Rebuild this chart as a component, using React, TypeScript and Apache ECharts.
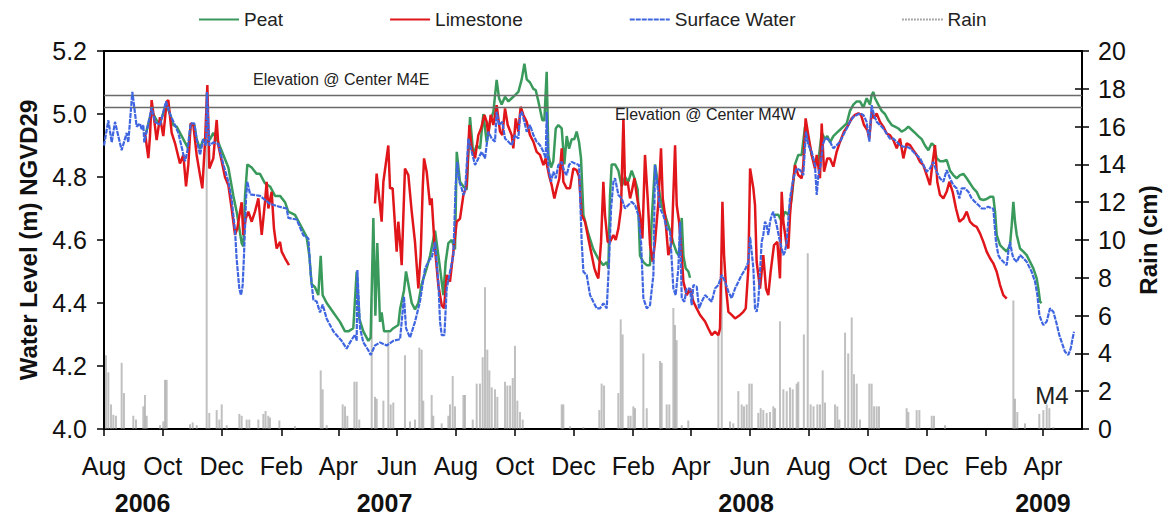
import React, { useEffect, useRef } from "react";
import * as echarts from "echarts";

// Day offsets are counted from START (2006-08-01)
const START = "2006-08-01";
const END_DAY = 1014.5;
const DAY_MS = 86400000;

const monthTicks = [
  "2006-08-01", "2006-10-01", "2006-12-01", "2007-02-01", "2007-04-01", "2007-06-01",
  "2007-08-01", "2007-10-01", "2007-12-01", "2008-02-01", "2008-04-01", "2008-06-01",
  "2008-08-01", "2008-10-01", "2008-12-01", "2009-02-01", "2009-04-01",
];
const monthNames = ["Jan", "Feb", "Mar", "Apr", "May", "Jun", "Jul", "Aug", "Sep", "Oct", "Nov", "Dec"];
const yearLabels = ["2006", "2007", "2008", "2009"];
const yearLabelDates = ["2006-09-10", "2007-05-19", "2008-05-28", "2009-04-01"];
const annotationTexts = ["Elevation @ Center M4E", "Elevation @ Center M4W", "M4"];
const elevationLines = [5.057, 5.022];

// [day, water level m]
const peat: [number, number | null][] = [
  [43.6,4.94],[49.4,5.01],[54.6,4.98],[58.1,4.97],[64.3,5.03],[68.5,5.0],[71.9,4.965],[75.4,4.96],[80.6,4.93],[84,4.91],[87.5,4.89],[89.9,4.965],[93.7,4.965],[96.1,4.92],[99.6,4.89],[103,4.92],[106.5,4.91],[110,4.92],[113.4,4.94],[118.6,4.91],[123.8,4.87],[129,4.83],[134.2,4.74],[137.6,4.69],[142.8,4.59],[144.5,4.58],[146.3,4.74],[148.7,4.84],[153.2,4.83],[158.4,4.81],[161.8,4.81],[167,4.78],[172.2,4.77],[177.4,4.74],[182.6,4.74],[187.8,4.72],[191.2,4.69],[198.1,4.68],[205,4.64],[210.2,4.61],[213,4.55],[215.4,4.46],[218.9,4.45],[222.3,4.425],[224.8,4.55],[226.8,4.425],[231,4.40],[237.9,4.37],[244.8,4.34],[250,4.31],[253.5,4.31],[258.6,4.32],[262.1,4.50],[264.9,4.35],[269,4.31],[274.2,4.28],[276.6,4.29],[279.4,4.67],[281.5,4.36],[283.5,4.59],[286.3,4.34],[288,4.37],[290.5,4.31],[296.7,4.31],[300.1,4.32],[305.3,4.33],[307.1,4.38],[311.2,4.44],[313.3,4.50],[315.7,4.46],[319.2,4.40],[322.6,4.38],[326.1,4.40],[329.5,4.46],[334.7,4.51],[338.2,4.55],
  [343.4,4.63],[348.6,4.51],[352,4.425],[354.4,4.53],[357.2,4.59],[360.7,4.60],[364.1,4.57],[365.9,4.88],[369.3,4.785],[372.8,4.77],[376.2,4.76],[379.7,4.99],[383.1,4.87],[386.6,4.90],[390.1,4.89],[393.5,5.0],[397,4.91],[400.4,4.975],[403.9,5.007],[407.3,5.108],[409.8,5.05],[412.5,5.03],[416,5.055],[419.5,5.04],[422.9,5.05],[426.4,5.06],[429.8,5.07],[433.3,5.11],[436.1,5.16],[438.5,5.11],[441.9,5.10],[445.4,5.08],[447.8,5.076],[450.6,5.04],[454.7,4.98],[456.8,4.98],[459.2,5.134],[461,4.87],[463.7,4.83],[466.1,4.85],[468.6,4.954],[471.3,4.965],[474.8,4.954],[477.5,4.84],[480,4.93],[482.4,4.89],[485.2,4.92],[487.9,4.92],[490.3,4.944],[492.8,4.91],[494.8,4.86],[497.3,4.68],[502.4,4.62],[507.6,4.57],[512.8,4.54],[518,4.52],[521.5,4.53],[523.2,4.51],[524.9,4.74],[526.6,4.84],[530.1,4.84],[533.6,4.82],[537,4.77],[540.5,4.80],[543.9,4.785],[547.4,4.82],[550.9,4.79],[553.6,4.76],[556,4.55],[559.5,4.53],[563,4.52],[566.4,4.52],[568.1,4.66],[571.6,4.84],[575.1,4.77],[578.5,4.71],[582,4.68],[587.2,4.63],[590.6,4.59],[594.1,4.56],[596.5,4.55],[599.3,4.67],[601,4.55],[603.4,4.51],[606.2,4.50],[607.9,4.48],
  [652,null],
  [696,4.68],[699.5,4.68],[702.9,4.66],[706.4,4.69],[709.9,4.68],[713.3,4.73],[716.8,4.84],[720.2,4.87],[723.7,4.87],[727.2,4.96],[730.6,4.92],[734.1,4.87],[737.5,4.84],[741,4.85],[744.5,4.94],[747.9,4.92],[750.3,4.93],[753.1,4.91],[756.6,4.93],[760,4.94],[763.5,4.95],[766.9,4.96],[770.4,4.97],[773.8,5.01],[777.3,5.03],[780.8,5.04],[784.2,5.04],[787.7,5.02],[791.1,5.05],[794.6,5.03],[796.3,5.06],[798.1,5.07],[799.8,5.05],[803.2,5.03],[806.7,5.01],[810.1,5.0],[813.6,4.98],[817.1,4.965],[820.5,4.96],[824,4.954],[827.4,4.944],[830.9,4.95],[834.4,4.96],[837.8,4.95],[841.3,4.94],[844.7,4.93],[848.2,4.92],[851.6,4.90],[855.1,4.885],[858.6,4.907],[861,4.90],[863.7,4.86],[867.2,4.85],[870.7,4.85],[874.1,4.854],[877.6,4.82],[881,4.806],[884.5,4.796],[888,4.806],[891.4,4.81],[894.9,4.796],[898.3,4.78],[901.8,4.764],[905.2,4.753],[908.7,4.73],[912.2,4.727],[915.6,4.73],[919.1,4.737],[922.5,4.737],[924.3,4.69],[926,4.616],[929.5,4.584],[932.9,4.573],[936.4,4.563],[939.8,4.584],[941.6,4.647],[943.3,4.721],[945,4.658],[946.8,4.616],[950.2,4.573],[953.7,4.563],[957.1,4.552],[960.6,4.531],[964,4.51],[967.5,4.478],[969.2,4.446],[971,4.404],[972.7,4.40],
];

const limestone: [number, number | null][] = [
  [42.5,4.94],[46,4.86],[47.7,4.93],[49.4,5.044],[51.9,4.986],[54.6,4.917],[58.1,4.99],[61.5,4.93],[65,5.04],[66.7,5.044],[70.2,4.94],[73.7,4.907],[78.8,4.843],[82.3,4.87],[85.1,4.77],[87.5,4.84],[89.9,4.97],[92.7,4.965],[96.1,4.87],[99.6,4.806],[102,4.764],[104.8,4.912],[107.2,5.092],[109.3,4.827],[113.4,4.859],[115.1,4.922],[116.9,4.981],[118.6,4.90],[122.1,4.85],[125.5,4.80],[129,4.774],[132.4,4.70],[135.9,4.616],[138.3,4.637],[141.1,4.69],[142.8,4.72],[144.5,4.616],[147,4.668],[149.7,4.69],[153.2,4.658],[156.6,4.69],[160.1,4.732],[163.6,4.616],[167,4.72],[168.7,4.785],[170.5,4.70],[173.9,4.753],[176.3,4.637],[179.1,4.573],[182.6,4.594],[184.3,4.563],[187.8,4.542],[191.9,4.52],
  [236,null],
  [281.1,4.716],[282.8,4.811],[286.3,4.711],[288,4.658],[289.8,4.785],[294.9,4.90],[296.7,4.764],[299.4,4.764],[303.6,4.563],[305.3,4.658],[307.1,4.594],[308.8,4.52],[312.2,4.827],[315.7,4.806],[319.2,4.69],[322.6,4.594],[326.1,4.446],[328.5,4.552],[330.6,4.764],[332,4.859],[334.7,4.817],[338.2,4.711],
  [339.9,4.732],[342.7,4.594],[346.8,4.457],[350.3,4.393],[352.7,4.383],[355.5,4.489],[358.9,4.468],[362.4,4.563],[365.9,4.658],[369.3,4.668],[372.8,4.743],[376.2,4.774],[379,4.965],[381.4,4.891],[384.9,4.859],[388.3,4.933],[391.1,4.954],[394.6,4.997],[397,4.975],[398.7,4.933],[401.1,4.997],[403.9,4.965],[407.3,5.028],[410.8,4.944],[413.2,4.933],[416,5.018],[418.8,4.965],[422.9,4.933],[424.6,4.891],[427.1,4.986],[429.8,4.944],[432.2,5.023],[435,4.997],[438.5,4.975],[441.9,4.933],[445.4,4.912],[448.8,4.88],[452.3,4.87],[455.8,4.838],[458.2,4.859],[461.6,4.806],[464.4,4.774],[467.2,4.732],[469.6,4.764],[472.4,4.796],[474.8,4.891],[476.5,4.785],[480,4.764],[483.4,4.764],[486.9,4.827],[490.3,4.822],[492.8,4.801],[495.5,4.679],[499,4.658],[502.4,4.605],[505.9,4.552],[508.7,4.51],[511.1,4.489],[512.8,4.478],[515.6,4.594],[518,4.785],[519.7,4.679],[522.5,4.594],[524.9,4.594],[528.4,4.616],[530.8,4.60],[533.6,4.637],[536.3,4.70],[538.8,4.986],[540.5,4.774],[543.2,4.785],[545.7,4.732],[547.4,4.753],[550.2,4.796],[552.6,4.743],[556,4.679],[558.5,4.605],[561.2,4.87],[564,4.732],[566.4,4.584],[569.2,4.531],[571.6,4.594],[575.1,4.721],[577.8,4.891],[579.6,4.732],[582,4.679],[585.4,4.552],[588.9,4.594],[592.4,4.901],[594.1,4.711],[596.5,4.658],[599.3,4.552],[601,4.468],[604.5,4.425],[607.9,4.446],[611.4,4.404],[614.8,4.383],[618.3,4.362],[623.5,4.341],[626.9,4.319],[630.4,4.298],[633.8,4.309],[637.3,4.298],[639,4.319],[641.5,4.721],[643.2,4.552],[645.3,4.446],[647.7,4.372],[651.1,4.362],[654.6,4.351],[659.8,4.362],[663.2,4.372],[665.7,4.383],[668.4,4.51],[670.2,4.827],[673.6,4.764],[675.3,4.711],
  [677,4.531],[680.5,4.446],[683.9,4.552],[686.7,4.446],[689.1,4.425],[691.5,4.499],[695,4.584],[698.5,4.594],[701.2,4.478],[703,4.753],[704.7,4.658],[708.1,4.584],[709.9,4.573],[711.6,4.679],[713.3,4.743],[716.8,4.838],[720.2,4.806],[723.7,4.796],[725.4,4.838],[727.8,4.986],[730.6,4.933],[734.1,4.87],[737.5,4.827],[739.3,4.87],[742.7,4.796],[744.5,4.97],[746.9,4.817],[750.3,4.859],[753.1,4.859],[756.6,4.833],[760,4.88],[763.5,4.912],[767.6,4.944],[772.1,4.965],[775.6,4.986],[779,4.997],[782.5,5.002],[785.3,4.997],[788.4,4.965],[791.8,4.949],[793.9,4.922],[796.3,5.007],[798.7,4.986],[801.5,5.002],[805,4.975],[808.4,4.96],[811.9,4.938],[815.3,4.933],[818.8,4.917],[822.3,4.891],[825.7,4.922],[829.2,4.859],[832.6,4.907],[836.1,4.901],[839.5,4.885],[843,4.87],[846.5,4.848],[849.9,4.838],[853.4,4.806],[856.8,4.774],[859.6,4.848],[862,4.901],[864.4,4.785],[867.2,4.743],[870.7,4.732],[874.1,4.753],[876.9,4.785],[880.3,4.753],[883.8,4.70],[887.3,4.658],[891.4,4.668],[894.9,4.69],[898.3,4.658],[901.8,4.647],[905.2,4.642],[908.7,4.621],[912.2,4.594],[915.6,4.563],[919.1,4.542],[922.5,4.526],[926,4.499],[929.5,4.457],[932.9,4.425],[936.4,4.414],
];

const surfaceWater: [number, number][] = [
  [0,4.90],[4.5,4.98],[8,4.91],[11.4,4.975],[18.3,4.885],[23.5,4.94],[25.2,4.91],[29.4,5.07],[33.9,4.96],[37.3,4.97],[39.1,4.95],[40.8,4.965],[41.8,4.91],[44.3,4.945],[49.4,5.02],[52.9,4.975],[58.1,4.965],[64.3,5.04],[68.5,5.0],[77.1,4.94],[84,4.85],[86.4,4.88],[89.9,4.97],[93.7,4.97],[96.1,4.92],[99.6,4.87],[103,4.92],[105.8,4.90],[106.8,5.07],[109.3,4.90],[113.4,4.91],[118.6,4.905],[123.8,4.84],[129,4.785],[132.4,4.73],[135.9,4.63],[137.6,4.54],[140.4,4.445],[142.1,4.425],[143.8,4.455],[145.2,4.55],[147.3,4.73],[148.7,4.785],[151.5,4.745],[161.8,4.74],[172.2,4.715],[182.6,4.705],[189.5,4.70],[191.2,4.67],[199.9,4.665],[206.8,4.615],[212,4.605],[214.4,4.49],[217.2,4.41],[220.6,4.405],[224.1,4.37],[226.8,4.395],[231,4.35],[237.9,4.31],[246.5,4.28],[251.7,4.255],[255.2,4.275],[260.4,4.30],[262.1,4.28],[262.8,4.505],[265.6,4.32],[269,4.275],[274.2,4.25],[276.6,4.235],[281.1,4.265],[286.3,4.275],[293.2,4.265],[300.1,4.28],[307.1,4.285],[311.2,4.42],[313.3,4.32],[317.4,4.29],[322.6,4.34],[327.8,4.405],[333,4.51],[338.2,4.54],
  [339.9,4.542],[343.4,4.594],[346.8,4.468],[348.6,4.34],[350.3,4.298],[353.1,4.298],[355.5,4.446],[358.9,4.499],[362.4,4.552],[364.8,4.774],[366.5,4.848],[368.6,4.785],[371,4.764],[372.8,4.743],[374.5,4.753],[378,4.922],[381.4,4.88],[384.9,4.838],[388.3,4.859],[391.8,4.88],[395.2,4.859],[398.7,4.944],[402.2,4.922],[405.6,4.912],[407.3,5.007],[409.8,4.965],[413.2,4.975],[416,4.922],[419.5,4.912],[422.9,4.901],[426.4,4.933],[429.8,4.922],[431.6,4.997],[433.3,5.007],[436.1,4.975],[438.5,4.944],[441.9,4.965],[445.4,4.933],[448.8,4.912],[452.3,4.901],[455.8,4.88],[458.2,4.859],[459.2,5.007],[461,4.827],[463.7,4.785],[466.1,4.817],[468.6,4.796],[471.3,4.838],[474.8,4.848],[477.5,4.817],[480,4.806],[482.4,4.838],[485.2,4.848],[488.6,4.843],[492.8,4.838],[495.5,4.594],[497.3,4.499],[500.7,4.489],[504.2,4.425],[507.6,4.404],[511.1,4.383],[514.5,4.383],[518,4.399],[521.5,4.383],[523.9,4.531],[526,4.70],[528.4,4.785],[530.1,4.796],[533.6,4.743],[537,4.732],[540.5,4.70],[543.9,4.711],[547.4,4.721],[550.9,4.711],[554.3,4.679],[557.1,4.594],[559.5,4.415],[563,4.383],[566.4,4.393],[569.9,4.489],[571.6,4.838],[574.4,4.764],[576.8,4.70],[580.2,4.679],[583.7,4.637],[587.2,4.626],[590.6,4.446],[593,4.425],[595.8,4.51],[597.5,4.658],[599.3,4.415],[602,4.404],[604.5,4.446],[607.9,4.446],[609.6,4.393],[611.4,4.457],[614.8,4.452],[617.3,4.383],[620,4.404],[623.5,4.425],[626.9,4.415],[630.4,4.404],[633.8,4.446],[637.3,4.457],[640.8,4.489],[644.2,4.468],[647.7,4.436],[651.1,4.415],[654.6,4.446],[658.1,4.468],[661.5,4.489],[665.7,4.51],[668.4,4.531],[670.2,4.61],[673.6,4.51],
  [675.3,4.383],[677,4.372],[678.7,4.404],[680.5,4.499],[682.2,4.594],[683.9,4.616],[685.7,4.658],[687.4,4.647],[689.1,4.616],[690.9,4.658],[692.6,4.679],[694.3,4.69],[696,4.668],[697.8,4.647],[700.5,4.605],[703,4.573],[704.7,4.552],[706.4,4.563],[708.1,4.594],[711.6,4.732],[715.1,4.796],[718.5,4.827],[722,4.822],[725.4,4.806],[728.2,4.944],[730.6,4.901],[734.1,4.88],[737.5,4.838],[739.3,4.743],[741,4.806],[743.4,4.838],[745.5,4.901],[747.9,4.922],[750.3,4.922],[753.1,4.912],[756.6,4.891],[760,4.901],[763.5,4.912],[766.9,4.933],[770.4,4.954],[773.8,4.975],[777.3,4.991],[780.8,4.997],[784.2,5.002],[787.7,4.997],[791.1,4.975],[793.9,4.912],[796.3,5.028],[798.7,4.997],[801.5,4.975],[805,4.965],[808.4,4.954],[811.9,4.938],[815.3,4.922],[818.8,4.922],[822.3,4.912],[825.7,4.901],[829.2,4.896],[832.6,4.896],[836.1,4.891],[839.5,4.88],[843,4.87],[846.5,4.859],[849.9,4.838],[853.4,4.817],[856.8,4.827],[860.3,4.848],[863.7,4.817],[867.2,4.796],[870.7,4.785],[874.1,4.822],[877.6,4.796],[881,4.774],[884.5,4.764],[887.3,4.732],[889.7,4.764],[893.1,4.764],[896.6,4.753],[900.1,4.732],[903.5,4.721],[907,4.711],[910.4,4.70],[913.9,4.70],[917.3,4.706],[920.8,4.70],[922.5,4.70],[925.3,4.594],[927.7,4.552],[929.5,4.542],[932.9,4.531],[936.4,4.52],[938.1,4.563],[939.8,4.594],[941.6,4.563],[943.3,4.542],[946.8,4.531],[950.2,4.552],[953.7,4.542],[957.1,4.531],[962.3,4.499],[965.8,4.468],[968.2,4.425],[970.3,4.362],[972.7,4.341],[974.4,4.33],[977.9,4.341],[981.3,4.383],[984.8,4.372],[987.6,4.341],[991,4.298],[994.5,4.266],[996.9,4.245],[1000.3,4.235],[1002.8,4.256],[1004.8,4.288],[1006.2,4.309],
];

// [day, rain cm]
const rain: [number, number][] = [
  [2,3.9],[4.5,3.0],[7.3,1.3],[9.7,0.75],[12.4,0.7],[18.3,3.5],[20.7,1.9],[30.4,0.7],[33.2,0.5],[40.8,1.2],[42.5,1.8],[44.3,0.7],[58.1,0.2],[61.5,0.4],[63.3,2.6],[65,2.6],[89.2,0.25],[92,0.35],[96.2,0.2],[106.5,17.8],[109.2,0.85],[116.9,1.0],[119.6,0.5],[122.1,1.3],[127.3,0.2],[140.4,0.8],[142.8,0.7],[148,0.5],[150.7,0.5],[160.1,0.5],[165.3,0.8],[167.6,0.95],[170.4,0.7],[172.2,0.6],[181.9,0.45],[198.1,0.15],[224.8,3.1],[226.8,2.1],[231,0.2],[247.6,1.3],[250,1.2],[252.4,0.7],[259.7,2.5],[262.1,2.5],[264.8,0.5],[277.7,6.9],[281.1,1.7],[282.9,1.6],[289.8,1.5],[294.9,5.1],[297.4,1.3],[300.1,1.4],[312.2,3.9],[317.4,0.4],[322.6,0.5],[327.1,4.3],[329.5,4.2],[331.2,1.5],[339.9,1.8],[341.6,0.7],[350.3,0.3],[357.2,0.7],[358.9,1.3],[361.7,2.8],[364.1,1.2],[372.8,1.8],[374.5,1.8],[382.5,0.5],[386.6,2.4],[390,2.4],[392.8,3.8],[395.2,7.5],[397.6,4.2],[399.7,3.1],[402.2,2.2],[405.6,2.1],[408,1.7],[416,2.5],[418.4,2.3],[421.2,2.3],[424,2.7],[426.3,4.4],[428.8,1.5],[431.5,0.9],[434.3,0.5],[474.8,1.3],[476.5,1.3],[483.4,0.15],[497.2,0.1],[513.8,1.0],[516.2,2.4],[518.7,2.3],[533.5,1.9],[536,5.8],[538,5.0],[543.9,0.7],[546.3,0.7],[549.1,1.2],[550.8,1.1],[559.5,4.0],[563,1.1],[576.8,3.6],[578.5,3.5],[583.7,1.3],[586.4,1.3],[590.6,6.4],[592.3,5.5],[594,4.7],[599.3,0.2],[606.1,0.45],[637.3,5.0],[640.8,8.9],[649.4,0.4],[652.8,0.3],[658,2.0],[661.5,1.3],[663.9,1.2],[666.7,1.3],[669.4,2.4],[671.9,2.4],[678.7,0.85],[681.2,1.1],[683.9,1.0],[687.4,0.85],[690.9,0.9],[694.3,1.2],[696.1,1.1],[701.2,5.7],[704.7,2.1],[708.2,2.0],[711.6,2.2],[714.4,2.1],[718.5,2.4],[720.2,2.5],[726,5.0],[730,9.3],[733,1.3],[736,1.2],[740,1.3],[742.7,1.3],[745.5,3.1],[747.9,1.4],[758.3,1.3],[760.7,1.2],[762.8,0.5],[768.7,5.1],[772,4.0],[775.6,5.9],[778,2.9],[780.8,2.4],[784.2,0.5],[793.9,2.4],[796.3,2.4],[798.8,1.2],[801.5,1.2],[803.9,1.2],[832.6,1.1],[834.4,0.9],[843,1.0],[845.8,1.0],[858.6,0.7],[861,0.7],[872.4,0.2],[943.3,6.8],[945,1.6],[947.4,0.9],[955.4,0.3],[970.2,0.8],[974.4,1.0],[977.9,1.3],[980.6,1.1],[984.8,0.1],
];

const FONT = "'Liberation Sans', Arial, Helvetica, sans-serif";
const t0 = Date.parse(START);
const ts = (d: number) => t0 + d * DAY_MS;
const toSeries = (arr: [number, number | null][]) => arr.map(([d, v]) => [ts(d), v]);
const xMin = ts(0);
const xMax = ts(END_DAY);
const monthTickValues = monthTicks.map((s) => Date.parse(s));
const yearTickValues = yearLabelDates.map((s) => Date.parse(s));

function buildOption(): any {
  return {
    animation: false,
    backgroundColor: "#ffffff",
    textStyle: { fontFamily: FONT },
    legend: {
      left: 193,
      top: 5,
      itemWidth: 40,
      itemHeight: 14,
      itemGap: 106,
      itemStyle: { opacity: 0 },
      textStyle: { fontSize: 19, color: "#222", fontFamily: FONT },
      data: ["Peat", "Limestone", "Surface Water", "Rain"],
    },
    grid: { left: 104, right: 90, top: 51, bottom: 93, show: true, borderColor: "#000", borderWidth: 2 },
    xAxis: [
      {
        type: "value",
        min: xMin,
        max: xMax,
        axisLine: { onZero: false, lineStyle: { color: "#000", width: 2 } },
        axisTick: { show: true, length: 7, customValues: monthTickValues, lineStyle: { color: "#000", width: 1.5 } },
        axisLabel: {
          customValues: monthTickValues,
          formatter: (v: number) => monthNames[new Date(v).getUTCMonth()],
          fontSize: 25,
          color: "#111",
          margin: 24,
          fontFamily: FONT,
        },
        splitLine: { show: false },
      },
      {
        type: "value",
        min: xMin,
        max: xMax,
        position: "bottom",
        axisLine: { show: false, onZero: false },
        axisTick: { show: false },
        axisLabel: {
          customValues: yearTickValues,
          formatter: (v: number) => {
            let best = 0;
            yearTickValues.forEach((t, i) => {
              if (Math.abs(t - v) < Math.abs(yearTickValues[best] - v)) best = i;
            });
            return yearLabels[best];
          },
          fontSize: 25,
          fontWeight: "bold",
          color: "#111",
          margin: 61,
          fontFamily: FONT,
        },
        splitLine: { show: false },
      },
    ],
    yAxis: [
      {
        type: "value",
        min: 4,
        max: 5.2,
        interval: 0.2,
        position: "left",
        axisLine: { show: true, lineStyle: { color: "#000", width: 2 } },
        axisTick: { show: true, length: 7, lineStyle: { color: "#000", width: 1.5 } },
        axisLabel: { formatter: (v: number) => v.toFixed(1), fontSize: 25, color: "#111", margin: 17, fontFamily: FONT },
        splitLine: { show: false },
        name: "Water Level (m) NGVD29",
        nameLocation: "middle",
        nameGap: 64,
        nameTextStyle: { fontSize: 24, fontWeight: "bold", color: "#111", fontFamily: FONT },
      },
      {
        type: "value",
        min: 0,
        max: 20,
        interval: 2,
        position: "right",
        axisLine: { show: true, lineStyle: { color: "#000", width: 2 } },
        axisTick: { show: true, length: 7, lineStyle: { color: "#000", width: 1.5 } },
        axisLabel: { fontSize: 25, color: "#111", margin: 16, fontFamily: FONT },
        splitLine: { show: false },
        name: "Rain (cm)",
        nameLocation: "middle",
        nameGap: 52,
        nameTextStyle: { fontSize: 24, fontWeight: "bold", color: "#111", fontFamily: FONT },
      },
      {
        type: "value",
        min: 0,
        max: 20,
        interval: 2,
        position: "right",
        axisLine: { show: false },
        axisTick: { show: true, inside: true, length: 7, lineStyle: { color: "#000", width: 1.5 } },
        axisLabel: { show: false },
        splitLine: { show: false },
      },
    ],
    series: [
      {
        name: "Rain",
        type: "line",
        data: [],
        symbol: "none",
        lineStyle: { color: "#555", width: 1, type: [1, 2] },
        itemStyle: { color: "#555" },
      },
      {
        name: "Rain",
        type: "bar",
        xAxisIndex: 0,
        yAxisIndex: 1,
        data: toSeries(rain),
        barWidth: 2,
        itemStyle: { color: "rgba(150,150,150,0.6)" },
        z: 1,
      },
      {
        name: "Peat",
        type: "line",
        xAxisIndex: 0,
        yAxisIndex: 0,
        data: toSeries(peat),
        symbol: "none",
        connectNulls: false,
        lineStyle: { color: "#3a9a5c", width: 2.5 },
        itemStyle: { color: "#3a9a5c" },
        z: 3,
        markLine: {
          silent: true,
          symbol: ["none", "none"],
          label: { show: false },
          lineStyle: { color: "#6a6a6a", width: 1.3, type: "solid" },
          data: elevationLines.map((v) => ({ yAxis: v })),
        },
        markPoint: {
          silent: true,
          symbol: "circle",
          symbolSize: 0,
          itemStyle: { color: "transparent" },
          label: { show: true, position: "right", distance: 0, color: "#222", fontSize: 16, fontFamily: FONT, formatter: "{b}" },
          data: [
            { name: annotationTexts[0], coord: [ts(154.6), 5.108] },
            { name: annotationTexts[1], coord: [ts(530), 4.997] },
            { name: annotationTexts[2], coord: [ts(966), 4.105], label: { fontSize: 24 } },
          ],
        },
      },
      {
        name: "Limestone",
        type: "line",
        xAxisIndex: 0,
        yAxisIndex: 0,
        data: toSeries(limestone),
        symbol: "none",
        connectNulls: false,
        lineStyle: { color: "#e0161b", width: 2.5 },
        itemStyle: { color: "#e0161b" },
        z: 4,
      },
      {
        name: "Surface Water",
        type: "line",
        xAxisIndex: 0,
        yAxisIndex: 0,
        data: toSeries(surfaceWater),
        symbol: "none",
        lineStyle: { color: "#3f66e0", width: 2.2, type: [5, 1] },
        itemStyle: { color: "#3f66e0" },
        z: 5,
      },
    ],
  };
}

export default function App() {
  const ref = useRef<HTMLDivElement>(null);
  useEffect(() => {
    if (!ref.current) return;
    const chart = echarts.init(ref.current, null, { renderer: "svg" });
    chart.setOption(buildOption());
    return () => chart.dispose();
  }, []);
  return (
    <div
      ref={ref}
      style={{ position: "fixed", left: 0, top: 0, width: 1172, height: 522, background: "#fff" }}
    />
  );
}
